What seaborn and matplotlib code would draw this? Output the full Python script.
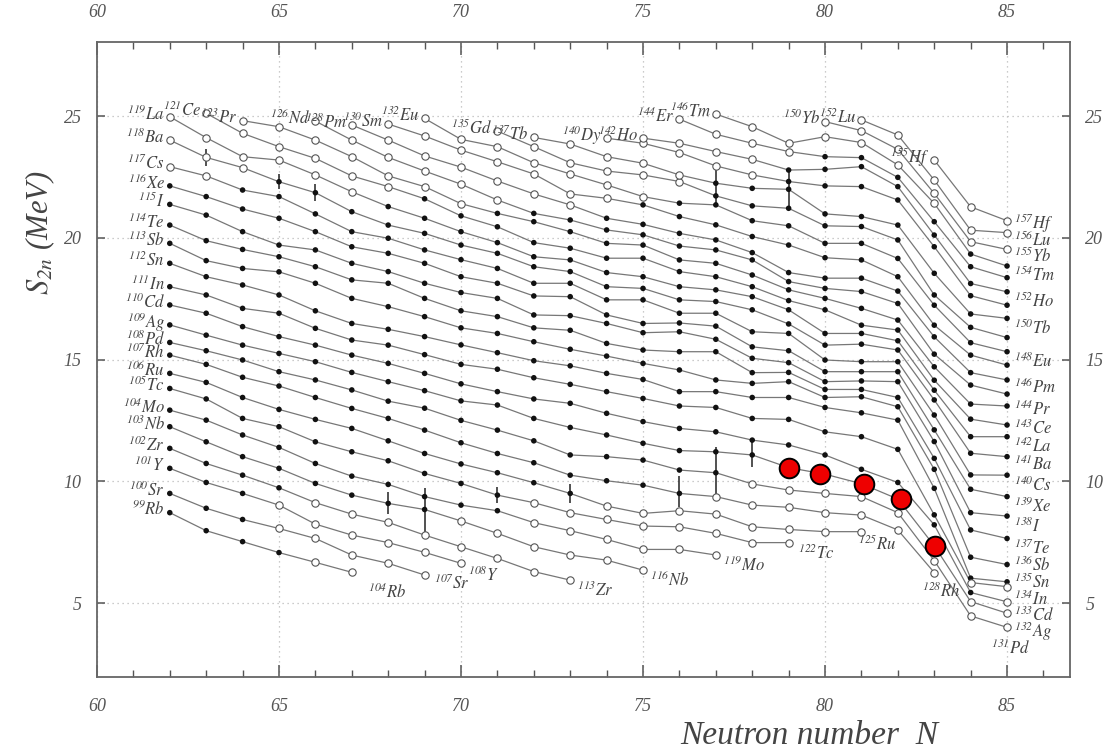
"""Two-neutron separation energies S2n for neutron-rich isotopic chains (Rb to Hf)."""

import matplotlib

matplotlib.use("Agg")
import matplotlib.pyplot as plt
import pandas as pd
import seaborn as sns
from matplotlib.ticker import MultipleLocator


ELEMENTS = [
    "Rb", "Sr", "Y", "Zr", "Nb", "Mo", "Tc", "Ru", "Rh", "Pd", "Ag", "Cd",
    "In", "Sn", "Sb", "Te", "I", "Xe", "Cs", "Ba", "La", "Ce", "Pr", "Nd",
    "Pm", "Sm", "Eu", "Gd", "Tb", "Dy", "Ho", "Er", "Tm", "Yb", "Lu", "Hf",
]
# neutron number of the first point of every chain
FIRST_N = [62] * 21 + [63, 64, 66, 67, 68, 69, 71, 72, 74, 75, 76, 77, 80, 81, 83]
# mass numbers written next to the first and last point
START_MASS = [
    99, 100, 101, 102, 103, 104, 105, 106, 107, 108, 109, 110, 111, 112, 113,
    114, 115, 116, 117, 118, 119, 121, 123, 126, 128, 130, 132, 135, 137, 140,
    142, 144, 146, 150, 152, 155,
]
END_MASS = {
    "Rb": 104, "Sr": 107, "Y": 108, "Zr": 113, "Nb": 116, "Mo": 119, "Tc": 122,
    "Ru": 125, "Rh": 128, "Pd": 131, "Ag": 132, "Cd": 133, "In": 134, "Sn": 135,
    "Sb": 136, "Te": 137, "I": 138, "Xe": 139, "Cs": 140, "Ba": 141, "La": 142,
    "Ce": 143, "Pr": 144, "Pm": 146, "Eu": 148, "Tb": 150, "Ho": 152, "Tm": 154,
    "Yb": 155, "Lu": 156, "Hf": 157,
}

# S2n in MeV, one value per neutron number starting at FIRST_N
S2N_RB = [8.71, 7.97, 7.52, 7.07, 6.67, 6.26]
S2N_SR = [9.5, 8.89, 8.43, 8.06, 7.65, 6.97, 6.63, 6.15]
S2N_Y = [10.53, 9.95, 9.5, 9.02, 8.24, 7.79, 7.48, 7.08, 6.63]
S2N_ZR = [11.35, 10.73, 10.25, 9.73, 9.12, 8.65, 8.31, 7.79, 7.31, 6.83, 6.29, 5.94]
S2N_NB = [12.24, 11.62, 11.01, 10.53, 9.91, 9.43, 9.09, 8.84, 8.37, 7.86, 7.31,
          6.97, 6.76, 6.35]
S2N_MO = [12.92, 12.51, 11.9, 11.39, 10.73, 10.21, 9.87, 9.37, 9.02, 8.79, 8.30,
          7.97, 7.61, 7.2, 7.2, 6.97]
S2N_TC = [13.81, 13.38, 12.58, 12.24, 11.62, 11.21, 10.84, 10.32, 9.91, 9.43,
          9.12, 8.71, 8.43, 8.16, 8.13, 7.86, 7.48, 7.48]
S2N_RU = [14.43, 14.06, 13.44, 12.95, 12.54, 12.17, 11.66, 11.14, 10.71, 10.35,
          9.94, 9.5, 8.98, 8.68, 8.79, 8.65, 8.13, 8.02, 7.93, 7.93]
S2N_RH = [15.18, 14.8, 14.27, 13.91, 13.44, 12.99, 12.58, 12.1, 11.58, 11.14,
          10.76, 10.25, 10.02, 9.84, 9.5, 9.37, 9.02, 8.93, 8.71, 8.61, 8.0, 6.25]
S2N_PD = [15.7, 15.36, 14.98, 14.5, 14.16, 13.75, 13.29, 13.0, 12.5, 12.1, 11.66,
          11.08, 11.01, 10.87, 10.46, 10.35, 9.89, 9.64, 9.5, 9.37, 8.71, 6.74,
          4.47, 4.0]
S2N_AG = [16.42, 16.0, 15.59, 15.25, 14.91, 14.47, 14.09, 13.72, 13.3, 13.13,
          12.58, 12.21, 11.9, 11.56, 11.26, 11.21, 11.08, 10.56, 10.29, 9.9, 9.27,
          7.35, 5.06, 4.58]
S2N_CD = [17.24, 16.9, 16.35, 15.94, 15.59, 15.18, 14.84, 14.43, 14.0, 13.68,
          13.38, 13.2, 12.79, 12.45, 12.17, 12.03, 11.69, 11.49, 11.08, 10.49,
          9.95, 8.21, 5.43, 5.05]
S2N_IN = [17.99, 17.65, 17.1, 16.9, 16.28, 15.8, 15.59, 15.2, 14.8, 14.6, 14.25,
          13.98, 13.68, 13.4, 13.09, 13.03, 12.58, 12.54, 12.03, 11.83, 11.31,
          8.62, 5.84, 5.67]
S2N_SN = [18.95, 18.4, 18.06, 17.65, 17.0, 16.48, 16.24, 15.94, 15.6, 15.28,
          14.95, 14.74, 14.43, 14.18, 13.68, 13.68, 13.44, 13.44, 13.03, 12.81,
          12.51, 9.71, 6.02, 5.87]
S2N_SB = [19.77, 19.06, 18.74, 18.6, 18.13, 17.51, 17.17, 16.76, 16.3, 16.07,
          15.73, 15.42, 15.14, 14.84, 14.57, 14.16, 14.02, 14.09, 13.44, 13.47,
          13.06, 10.49, 6.88, 6.58]
S2N_TE = [20.52, 19.88, 19.52, 19.22, 18.81, 18.27, 18.13, 17.51, 17.0, 16.76,
          16.3, 16.2, 15.66, 15.39, 15.32, 15.32, 14.46, 14.47, 13.77, 13.77,
          13.44, 10.94, 8.0, 7.65]
S2N_I = [21.37, 20.93, 20.25, 19.7, 19.5, 18.95, 18.61, 18.13, 17.75, 17.51,
         16.83, 16.8, 16.48, 16.1, 16.14, 15.83, 15.05, 14.87, 14.09, 14.12,
         14.09, 11.63, 8.71, 8.57]
S2N_XE = [22.13, 21.69, 21.18, 20.8, 20.25, 19.63, 19.36, 18.95, 18.4, 18.13,
          17.61, 17.58, 16.83, 16.48, 16.5, 16.37, 15.52, 15.36, 14.5, 14.5, 14.5,
          12.11, 9.67, 9.37]
S2N_CS = [22.92, 22.54, 21.96, 21.69, 20.98, 20.25, 19.98, 19.5, 19.1, 18.74,
          18.13, 18.13, 17.45, 17.45, 16.9, 16.9, 16.14, 16.07, 14.98, 14.91,
          14.91, 12.72, 10.26, 10.25]
S2N_BA = [24.01, 23.30, 22.88, 22.30, 21.85, 21.07, 20.52, 20.18, 19.7, 19.36,
          18.81, 18.61, 17.99, 17.92, 17.45, 17.38, 17.04, 16.46, 15.59, 15.63,
          15.39, 13.34, 11.15, 11.01]
S2N_LA = [24.97, 24.11, 23.33, 23.19, 22.58, 21.89, 21.28, 20.8, 20.25, 19.8,
          19.22, 19.09, 18.57, 18.4, 17.99, 17.86, 17.58, 17.04, 16.07, 16.07,
          15.77, 13.74, 11.83, 11.83]
S2N_CE = [25.11, 24.29, 23.74, 23.26, 22.54, 22.1, 21.6, 20.9, 20.45, 19.8, 19.57,
          19.16, 19.16, 18.61, 18.4, 17.99, 17.42, 17.04, 16.41, 16.21, 14.15,
          12.55, 12.31]
S2N_PR = [24.81, 24.56, 24.01, 23.33, 22.54, 22.1, 21.4, 21.0, 20.66, 20.25,
          19.77, 19.7, 19.09, 18.95, 18.47, 17.86, 17.51, 17.1, 16.62, 14.70,
          13.17, 13.09]
S2N_ND = [24.79, 24.01, 23.3, 22.74, 22.2, 21.55, 21.0, 20.73, 20.32, 20.12,
          19.66, 19.5, 19.09, 18.2, 17.92, 17.79, 17.30, 15.22, 13.95, 13.58]
S2N_PM = [24.63, 24.01, 23.36, 22.9, 22.33, 21.8, 21.35, 20.8, 20.55, 20.18,
          19.91, 19.39, 18.57, 18.34, 18.34, 17.81, 15.93, 14.46, 14.16]
S2N_SM = [24.67, 24.18, 23.6, 23.12, 22.62, 21.8, 21.62, 21.35, 20.87, 20.53,
          20.05, 19.7, 19.18, 19.09, 18.4, 16.41, 15.18, 14.77]
S2N_EU = [24.9, 24.04, 23.74, 23.08, 22.62, 22.17, 21.69, 21.42, 21.35, 20.7,
          20.49, 19.77, 19.77, 19.15, 17.23, 15.69, 15.32]
S2N_GD = [24.38, 23.74, 23.08, 22.74, 22.58, 22.31, 21.72, 21.31, 21.21, 20.49,
          20.46, 19.91, 17.65, 16.32, 15.9]
S2N_TB = [24.12, 23.85, 23.33, 23.06, 22.58, 22.24, 22.03, 21.99, 20.98, 20.87,
          20.52, 18.54, 16.87, 16.69]
S2N_DY = [24.09, 23.88, 23.5, 22.95, 22.58, 22.31, 22.13, 22.1, 21.55, 19.63,
          17.62, 17.23]
S2N_HO = [24.09, 23.88, 23.54, 23.22, 22.78, 22.81, 22.92, 22.10, 20.11, 18.12,
          17.78]
S2N_ER = [24.87, 24.25, 23.88, 23.54, 23.33, 23.29, 22.48, 20.66, 18.81, 18.36]
S2N_TM = [25.08, 24.56, 23.88, 24.15, 23.91, 22.99, 21.41, 19.33, 18.84]
S2N_YB = [24.77, 24.4, 23.63, 21.82, 19.84, 19.52]
S2N_LU = [24.84, 24.22, 22.37, 20.31, 20.21]
S2N_HF = [23.19, 21.27, 20.70]

# extrapolated values (open symbols): from this N upwards / up to this N
OPEN_FROM = {"Rb": 66, "Sr": 65, "Y": 65, "Zr": 66, "Nb": 70, "Mo": 72, "Tc": 72,
             "Ru": 74, "Rh": 77, "Pd": 78, "Ag": 84, "Cd": 85, "In": 84}
OPEN_UNTIL = {"Cs": 63, "Ba": 64, "La": 67, "Ce": 68, "Pr": 70, "Nd": 71,
              "Pm": 73, "Sm": 74, "Eu": 75, "Gd": 76, "Tb": 76, "Dy": 78,
              "Ho": 78, "Er": 79, "Tm": 83, "Yb": 85, "Lu": 85, "Hf": 85}

# vertical error bars
ERR_N = [63, 65, 66, 68, 69, 71, 73, 76, 77, 78, 77, 79]
ERR_LO = [22.95, 22.0, 21.5, 8.65, 7.86, 9.1, 9.1, 8.95, 9.37, 10.6, 21.35, 21.2]
ERR_HI = [23.65, 22.6, 22.2, 9.55, 9.71, 9.77, 9.9, 10.2, 11.4, 11.76, 22.95, 22.78]

# highlighted points
RED_N = [79.0, 79.85, 81.07, 82.1, 83.02]
RED_S2N = [10.56, 10.29, 9.9, 9.27, 7.35]

CHAINS = [
    S2N_RB, S2N_SR, S2N_Y, S2N_ZR, S2N_NB, S2N_MO, S2N_TC, S2N_RU, S2N_RH,
    S2N_PD, S2N_AG, S2N_CD, S2N_IN, S2N_SN, S2N_SB, S2N_TE, S2N_I, S2N_XE,
    S2N_CS, S2N_BA, S2N_LA, S2N_CE, S2N_PR, S2N_ND, S2N_PM, S2N_SM, S2N_EU,
    S2N_GD, S2N_TB, S2N_DY, S2N_HO, S2N_ER, S2N_TM, S2N_YB, S2N_LU, S2N_HF,
]

# label placement relative to the last point (dN, dS2n)
END_OFFSET = {
    "Rb": (0.45, -0.8), "Sr": (0.25, -0.35), "Y": (0.2, -0.5), "Tc": (0.25, -0.45),
    "Ru": (-0.1, -0.5), "Rh": (-0.35, -0.75), "Pd": (-0.45, -0.85),
    "Ag": (0.2, -0.72), "Cd": (0.2, -0.55), "In": (0.2, -0.5), "Sn": (0.2, -0.02),
    "Sb": (0.2, -0.05), "Hf": (0.2, -0.1), "Pr": (0.2, -0.15), "Ce": (0.2, -0.15),
    "Lu": (0.2, -0.3), "Yb": (0.2, -0.3), "Pm": (0.2, -0.3), "Ba": (0.2, -0.3),
}

TEXT = "#444444"


def build_table() -> pd.DataFrame:
    rows = []
    for name, n0, values in zip(ELEMENTS, FIRST_N, CHAINS):
        for k, value in enumerate(values):
            n = n0 + k
            hollow = n >= OPEN_FROM.get(name, 999) or n <= OPEN_UNTIL.get(name, 0)
            rows.append({"element": name, "N": n, "S2n": value, "hollow": hollow})
    return pd.DataFrame(rows)


def main() -> None:
    sns.set_style("ticks")
    plt.rcParams["font.family"] = ["Liberation Serif", "DejaVu Serif"]
    plt.rcParams["font.style"] = "italic"
    plt.rcParams["mathtext.fontset"] = "stix"
    plt.rcParams["mathtext.default"] = "it"

    data = build_table()

    fig = plt.figure(figsize=(11.07, 7.52), dpi=100)
    ax = fig.add_axes([0.0876, 0.0997, 0.879, 0.8448])

    sns.lineplot(
        data=data, x="N", y="S2n", units="element", estimator=None,
        color="#777777", linewidth=0.9, ax=ax, legend=False, zorder=2,
    )
    ax.vlines(ERR_N, ERR_LO, ERR_HI, color="#222222", linewidth=1.1, zorder=2.5)
    sns.scatterplot(
        data=data[~data["hollow"]], x="N", y="S2n", color="#111111",
        s=16, edgecolor="none", ax=ax, legend=False, zorder=3,
    )
    sns.scatterplot(
        data=data[data["hollow"]], x="N", y="S2n", color="white",
        edgecolor="#555555", linewidth=0.8, s=28, ax=ax, legend=False, zorder=3,
    )
    sns.scatterplot(
        x=RED_N, y=RED_S2N, color="#ee0000", edgecolor="black", linewidth=1.4,
        s=200, ax=ax, legend=False, zorder=6,
    )

    for name, n0, values, mass in zip(ELEMENTS, FIRST_N, CHAINS, START_MASS):
        ax.text(n0 - 0.13, values[0] + 0.12, rf"$^{{{mass}}}{name}$",
                ha="right", va="center", fontsize=12, color=TEXT, zorder=4)
        if name in END_MASS:
            dn, dv = END_OFFSET.get(name, (0.2, -0.4))
            n_end = n0 + len(values) - 1
            ax.text(n_end + dn, values[-1] + dv, rf"$^{{{END_MASS[name]}}}{name}$",
                    ha="left", va="center", fontsize=12, color=TEXT, zorder=4)

    ax.set_xlim(60, 86.73)
    ax.set_ylim(1.96, 28.05)
    ax.xaxis.set_major_locator(MultipleLocator(5))
    ax.xaxis.set_minor_locator(MultipleLocator(1))
    ax.yaxis.set_major_locator(MultipleLocator(5))
    ax.grid(True, which="major", linestyle=(0, (1, 3)), color="#bbbbbb", linewidth=0.9)
    ax.set_axisbelow(True)

    ax.tick_params(axis="x", which="both", direction="in", top=True, bottom=True,
                   labeltop=True, labelbottom=True, colors="#555555")
    ax.tick_params(axis="x", which="major", length=9, width=1.1, pad=15, labelsize=13)
    ax.tick_params(axis="x", which="minor", length=5, width=1.0)
    ax.tick_params(axis="y", which="major", direction="in", left=True, right=True,
                   labelleft=True, labelright=True, length=6, width=1.1, pad=11,
                   labelsize=13, colors="#555555")
    for spine in ax.spines.values():
        spine.set_color("#666666")
        spine.set_linewidth(1.3)
    ax.set_xlabel("")
    ax.set_ylabel("")

    fig.text(0.036, 0.69, r"$S_{2n}$ (MeV)", rotation=90, ha="center",
             va="center", fontsize=22, color=TEXT)
    fig.text(0.731, 0.021, "Neutron number  N", ha="center", va="center",
             fontsize=24, color=TEXT)

    fig.savefig("out.png", dpi=100)
    plt.close(fig)


if __name__ == "__main__":
    main()
